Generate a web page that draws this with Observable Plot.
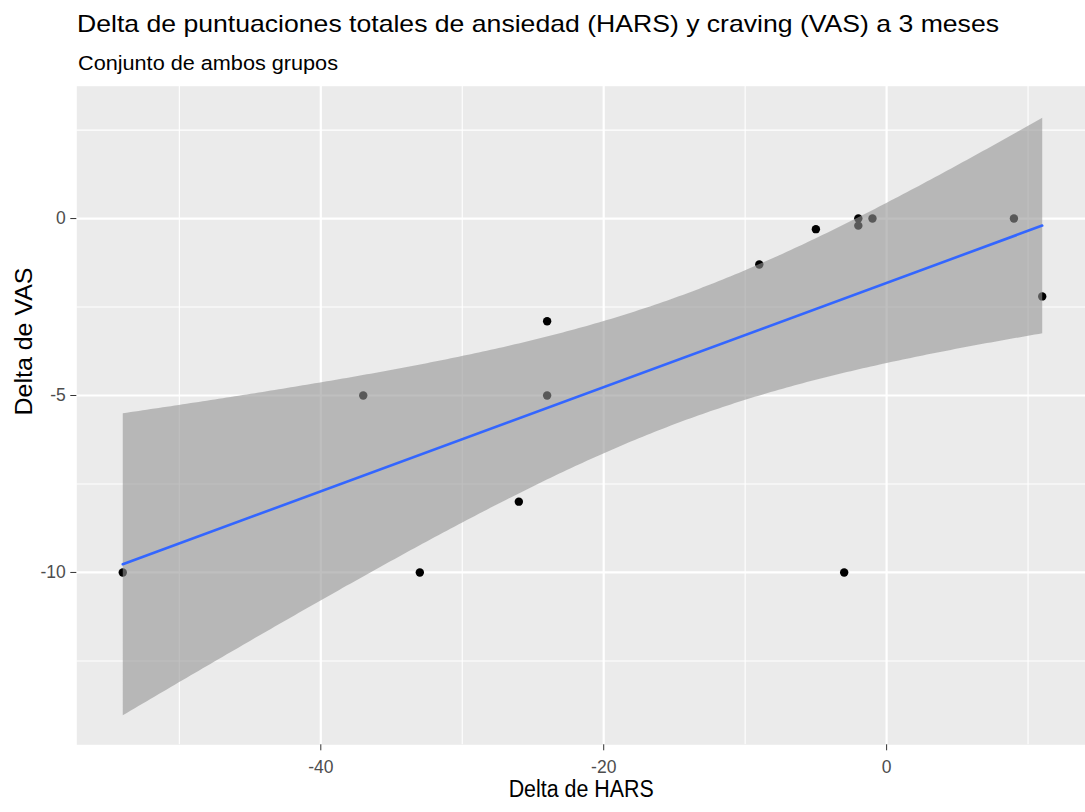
<!DOCTYPE html>
<html><head><meta charset="utf-8">
<script src="https://cdn.jsdelivr.net/npm/d3@7"></script>
<script src="https://cdn.jsdelivr.net/npm/@observablehq/plot@0.6"></script>
<style>
body{margin:0;overflow:hidden;background:#fff;font-family:"Liberation Sans",Arial,sans-serif}
#chart svg{display:block}
</style>
</head><body><div id="chart"></div>
<script>
// data
const hars = [-54, -37, -33, -26, -24, -24, -9, -5, -2, -2, -1, -3, 9, 11];
const vas  = [-10, -5, -10, -8, -2.9, -5, -1.3, -0.3, 0, -0.2, 0, -10, 0, -2.2];
const xTicks = [-40, -20, 0];
const yTicks = [-10, -5, 0];
const xMinor = [-50, -30, -10, 10];
const yMinor = [-12.5, -7.5, -2.5, 2.5];
const titleText = "Delta de puntuaciones totales de ansiedad (HARS) y craving (VAS) a 3 meses";
const subtitleText = "Conjunto de ambos grupos";
const xLabel = "Delta de HARS";
const yLabel = "Delta de VAS";

const data = hars.map((h, i) => ({hars: h, vas: vas[i]}));
const font = "Liberation Sans, Arial, sans-serif";

// header (title + subtitle)
const header = d3.create("svg").attr("width", 1085).attr("height", 80).style("font-family", font);
header.append("text").attr("x", 77).attr("y", 31.5).attr("font-size", 24).attr("fill", "#000")
  .attr("textLength", 922).attr("lengthAdjust", "spacingAndGlyphs").text(titleText);
header.append("text").attr("x", 78).attr("y", 70).attr("font-size", 20.5).attr("fill", "#000")
  .attr("textLength", 260).attr("lengthAdjust", "spacingAndGlyphs").text(subtitleText);
document.getElementById("chart").append(header.node());

const plot = Plot.plot({
  width: 1085,
  height: 732,
  marginTop: 5.7,
  marginBottom: 67.7,
  marginLeft: 76.3,
  marginRight: 0,
  style: {fontFamily: font, background: "transparent", overflow: "visible", maxWidth: "none"},
  x: {domain: [-57.25, 14.06]},
  y: {domain: [-14.87, 3.74]},
  marks: [
    Plot.frame({fill: "#EBEBEB", stroke: null}),
    Plot.ruleX(xMinor, {stroke: "#fff", strokeWidth: 1.1}),
    Plot.ruleY(yMinor, {stroke: "#fff", strokeWidth: 1.1}),
    Plot.ruleX(xTicks, {stroke: "#fff", strokeWidth: 2.2}),
    Plot.ruleY(yTicks, {stroke: "#fff", strokeWidth: 2.2}),
    Plot.dot(data, {x: "hars", y: "vas", r: 4.2, fill: "#000", stroke: null}),
    Plot.linearRegressionY(data, {x: "hars", y: "vas", ci: 0.95, stroke: "#3366FF", strokeWidth: 2.6, fill: "#959595", fillOpacity: 0.6}),
    Plot.axisX({ticks: xTicks, tickFormat: d => String(d), tickSize: 6, tickPadding: 9.5, fontSize: 17.5, stroke: "#333333", fill: "#4D4D4D", label: null}),
    Plot.axisY({ticks: yTicks, tickFormat: d => String(d), tickSize: 6, tickPadding: 5, fontSize: 17.5, stroke: "#333333", fill: "#4D4D4D", label: null}),
    Plot.text([xLabel], {frameAnchor: "bottom", dy: 52.5, fontSize: 23.5, fill: "#000", text: d => d}),
    Plot.text([yLabel], {frameAnchor: "left", dx: -52.3, rotate: -90, fontSize: 23.5, fill: "#000", text: d => d})
  ]
});
document.getElementById("chart").append(plot);

// fit axis titles to the measured lengths
plot.querySelectorAll("text").forEach(t => {
  if (t.textContent === xLabel) { t.setAttribute("textLength", 145); t.setAttribute("lengthAdjust", "spacingAndGlyphs"); }
  if (t.textContent === yLabel) { t.setAttribute("textLength", 148); t.setAttribute("lengthAdjust", "spacingAndGlyphs"); }
});
</script>
</body></html>
